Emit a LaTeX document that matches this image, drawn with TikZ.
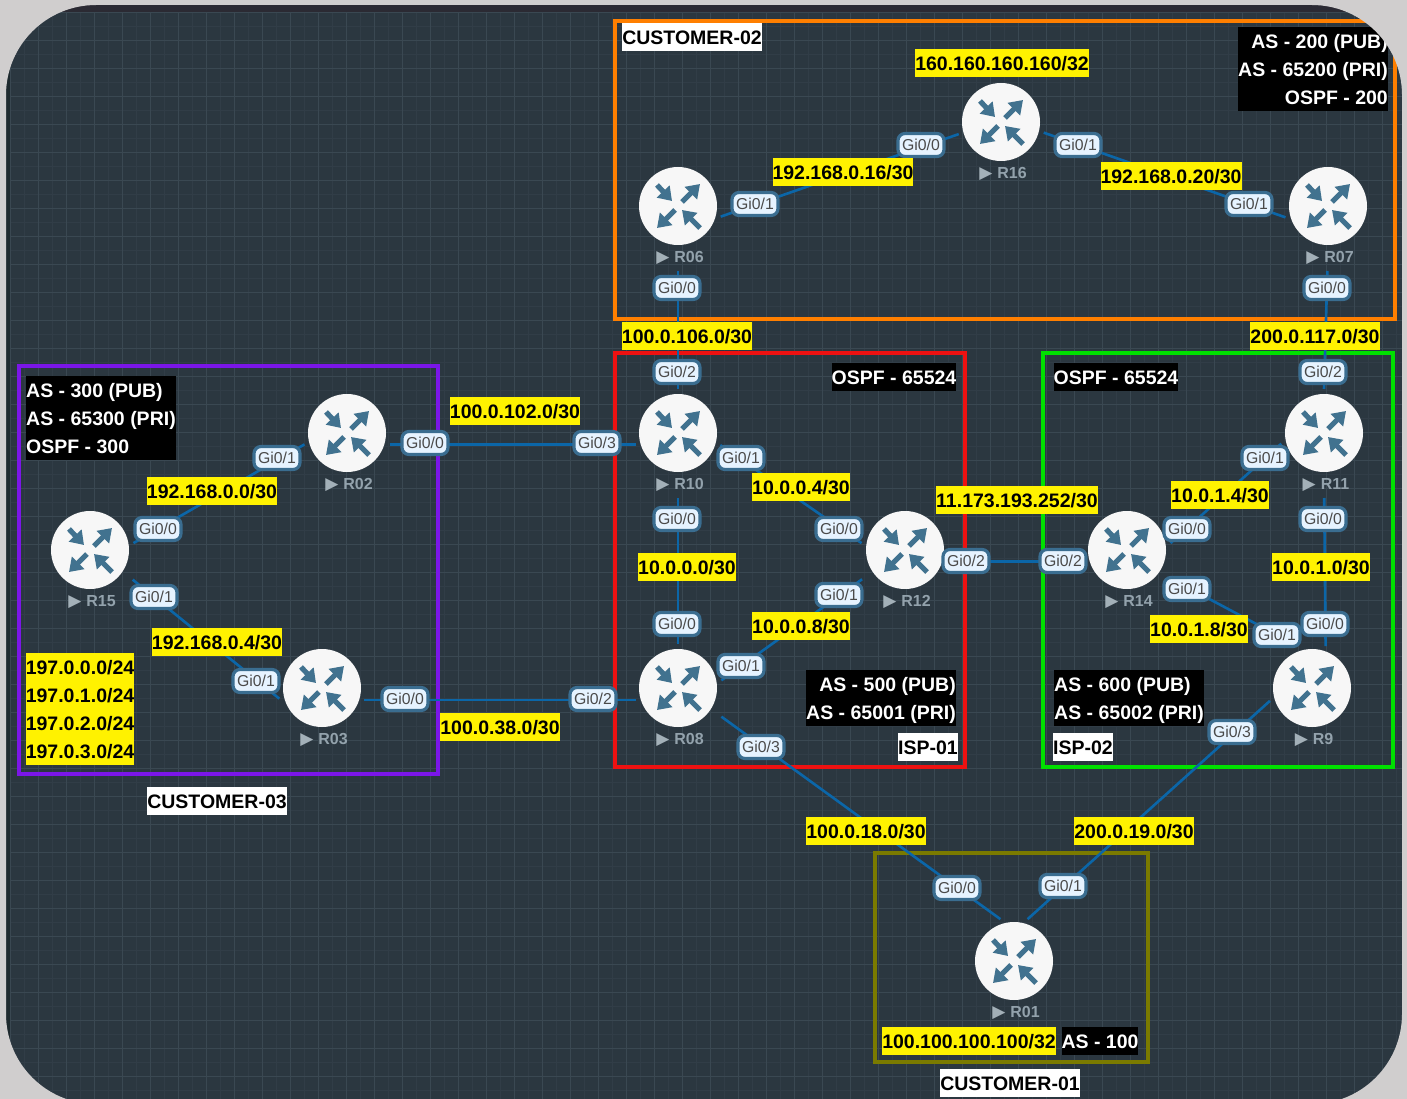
\documentclass[tikz,border=0pt]{standalone}
\usepackage{fontspec}
\setmainfont{Liberation Sans}
\newfontfamily\symfont{DejaVu Sans}
\usepackage{xcolor}
\usepackage{tikz}
\usetikzlibrary{arrows.meta,positioning,calc}
\definecolor{labgray}{HTML}{D0CECE}
\definecolor{labedge}{HTML}{1E2A2E}
\definecolor{labtop}{HTML}{2B2A33}
\definecolor{labback}{HTML}{2B3740}
\definecolor{labmajor}{HTML}{3A4852}
\definecolor{labminor}{HTML}{313D47}
\definecolor{linkblue}{HTML}{0B66A8}
\definecolor{portfill}{HTML}{E6F3FF}
\definecolor{portedge}{HTML}{3A6D90}
\definecolor{porttext}{HTML}{4A4A4A}
\definecolor{arrowblue}{HTML}{41728F}
\definecolor{tagtext}{HTML}{93A2AC}
\definecolor{custorange}{HTML}{FF7F00}
\definecolor{custpurple}{HTML}{7B16E8}
\definecolor{custolive}{HTML}{7A7A00}
\definecolor{ispred}{HTML}{EE1111}
\definecolor{ispgreen}{HTML}{00E000}
\newcommand{\tagmark}{{\symfont\fontsize{17}{16}\selectfont\color{tagtext!85!white}▶}\hspace{5pt}}
\newcommand{\stacktop}{\rule{0pt}{21.5pt}}
\newcommand{\stackend}{\rule[-6.5pt]{0pt}{6.5pt}}
\tikzset{
  routerarrow/.style={arrowblue,line width=5.2pt,-{Triangle[length=13pt,width=17pt]}},
  routerbox/.style={circle,minimum size=78pt,inner sep=0pt,outer sep=5pt,fill=white!97!black,
    path picture={
      \begin{scope}[shift={(path picture bounding box.center)}]
        \draw[routerarrow] (-21,-21) -- (-6,-5);
        \draw[routerarrow] (4,-4) -- (22,-22);
        \draw[routerarrow] (-3,4) -- (-21,22);
        \draw[routerarrow] (22,22) -- (4,4);
      \end{scope}}},
  routertag/.style={inner sep=0pt,text=tagtext,text height=12pt,text depth=3pt,xshift=2pt,
    font=\fontsize{16}{16}\selectfont\bfseries},
  link/.style={linkblue,line width=2.6pt},
  portbox/.style={rectangle,rounded corners=7pt,draw=portedge,line width=3.2pt,fill=portfill,
    minimum width=46pt,minimum height=23pt,inner sep=0pt,text=porttext,
    font=\fontsize{15.8}{15.8}\selectfont},
  tagbox/.style={rectangle,inner sep=0pt,minimum height=28pt,text height=21.5pt,text depth=6.5pt,
    font=\fontsize{19.5}{28}\selectfont\bfseries},
  stackbox/.style={rectangle,inner sep=0pt,font=\fontsize{19.5}{28}\selectfont\bfseries},
  yellowtag/.style={tagbox,fill=yellow,text=black},
  blacktag/.style={tagbox,fill=black,text=white},
  whitetag/.style={tagbox,fill=white,text=black},
  groupbox/.style={line width=3.2pt}
}

\begin{document}
\begin{tikzpicture}[x=1pt,y=-1pt]

  \useasboundingbox (0,0) rectangle (1407,1099);

  % canvas and grid
  \fill[labedge] (0,0) rectangle (1407,1099);
  \fill[labtop] (0,0) rectangle (1407,12);
  \fill[labback] (10,12) rectangle (1407,1099);
  \foreach \i in {0,...,50} {
    \draw[labminor,line width=1pt] ({24.3+28*\i},12) -- ({24.3+28*\i},1099);
    \draw[labminor,line width=1pt] (10,{26.7+28*\i}) -- (1407,{26.7+28*\i});
  }
  \foreach \i in {0,...,50} {
    \draw[labmajor,line width=1.3pt] ({10.3+28*\i},12) -- ({10.3+28*\i},1099);
    \draw[labmajor,line width=1.3pt] (10,{12.7+28*\i}) -- (1407,{12.7+28*\i});
  }

  % customer and isp frames
  \draw[groupbox,custorange] (615,21) rectangle (1395,319);
  \draw[groupbox,ispred] (615,353) rectangle (965,767);
  \draw[groupbox,ispgreen] (1043,353) rectangle (1393,767);
  \draw[groupbox,custpurple] (19,366) rectangle (438,774);
  \draw[groupbox,custolive] (875,853) rectangle (1148,1062);

  % routers
  \node[routerbox,label={[routertag]below:\tagmark R16}] (r16) at (1001,122) {};
  \node[routerbox,label={[routertag]below:\tagmark R06}] (r06) at (678,206) {};
  \node[routerbox,label={[routertag]below:\tagmark R07}] (r07) at (1328,206) {};
  \node[routerbox,label={[routertag]below:\tagmark R10}] (r10) at (678,433) {};
  \node[routerbox,label={[routertag]below:\tagmark R12}] (r12) at (905,550) {};
  \node[routerbox,label={[routertag]below:\tagmark R08}] (r08) at (678,688) {};
  \node[routerbox,label={[routertag]below:\tagmark R02}] (r02) at (347,433) {};
  \node[routerbox,label={[routertag]below:\tagmark R15}] (r15) at (90,550) {};
  \node[routerbox,label={[routertag]below:\tagmark R03}] (r03) at (322,688) {};
  \node[routerbox,label={[routertag]below:\tagmark R14}] (r14) at (1127,550) {};
  \node[routerbox,label={[routertag]below:\tagmark R11}] (r11) at (1324,433) {};
  \node[routerbox,label={[routertag]below:\tagmark R9}] (r09) at (1312,688) {};
  \node[routerbox,label={[routertag]below:\tagmark R01}] (r01) at (1014,961) {};

  \coordinate (r09g1) at (1277,635);

  % links
  \draw[link] (r06.-14) -- (r16.196);
  \draw[link] (r16.-14) -- (r07.195);
  \draw[link,shorten <=21pt] (r06.south) -- (r10.north);
  \draw[link,shorten <=21pt] (r07.south) -- (r11.north);
  \draw[link,shorten <=21pt] (r10.south) -- (r08.north);
  \draw[link,shorten <=21pt] (r11.south) -- (r09.72);
  \draw[link] (r10.-16) -- (r12.171);
  \draw[link,shorten >=8pt] (r08.10) -- (r12.214);
  \draw[link] (r12.-15) -- (r14.195);
  \draw[link] (r02.-15) -- (r10.195);
  \draw[link] (r03.-16) -- (r08.196);
  \draw[link] (r15.9) -- (r02.195);
  \draw[link,shorten <=8pt] (r15.-34) -- (r03.194);
  \draw[link,shorten <=8pt] (r08.-33) -- (r01.108);
  \draw[link] (r09.197) -- (r01.72);
  \draw[link] (r14.9) -- (r11.194);
  \draw[link,shorten <=8pt] (r14.-34) -- (r09g1);

  % interface labels
  \node[portbox] (r16g0) at (921,145) {Gi0/0};
  \node[portbox] (r16g1) at (1078,145) {Gi0/1};
  \node[portbox] (r06g1) at (755,204) {Gi0/1};
  \node[portbox] (r06g0) at (677,288) {Gi0/0};
  \node[portbox] (r07g1) at (1249,204) {Gi0/1};
  \node[portbox] (r07g0) at (1327,288) {Gi0/0};
  \node[portbox] (r10g2) at (677,372) {Gi0/2};
  \node[portbox] (r10g3) at (597,443) {Gi0/3};
  \node[portbox] (r10g1) at (741,458) {Gi0/1};
  \node[portbox] (r10g0) at (677,519) {Gi0/0};
  \node[portbox] (r08g0) at (677,624) {Gi0/0};
  \node[portbox] (r08g1) at (741,666) {Gi0/1};
  \node[portbox] (r08g2) at (593,699) {Gi0/2};
  \node[portbox] (r08g3) at (761,747) {Gi0/3};
  \node[portbox] (r12g0) at (839,529) {Gi0/0};
  \node[portbox] (r12g1) at (839,595) {Gi0/1};
  \node[portbox] (r12g2) at (966,561) {Gi0/2};
  \node[portbox] (r14g2) at (1063,561) {Gi0/2};
  \node[portbox] (r14g0) at (1187,529) {Gi0/0};
  \node[portbox] (r14g1) at (1187,589) {Gi0/1};
  \node[portbox] (r11g2) at (1323,372) {Gi0/2};
  \node[portbox] (r11g1) at (1265,458) {Gi0/1};
  \node[portbox] (r11g0) at (1323,519) {Gi0/0};
  \node[portbox] (r09g0) at (1325,624) {Gi0/0};
  \node[portbox] at (r09g1) {Gi0/1};
  \node[portbox] (r09g3) at (1232,732) {Gi0/3};
  \node[portbox] (r02g1) at (277,458) {Gi0/1};
  \node[portbox] (r02g0) at (425,443) {Gi0/0};
  \node[portbox] (r15g0) at (158,529) {Gi0/0};
  \node[portbox] (r15g1) at (154,597) {Gi0/1};
  \node[portbox] (r03g1) at (256,681) {Gi0/1};
  \node[portbox] (r03g0) at (405,699) {Gi0/0};
  \node[portbox] (r01g0) at (957,888) {Gi0/0};
  \node[portbox] (r01g1) at (1063,886) {Gi0/1};

  % subnets
  \node[yellowtag] (lo16) at (1002,63) {160.160.160.160/32};
  \node[yellowtag] (net16) at (843,172) {192.168.0.16/30};
  \node[yellowtag] (net20) at (1171,176) {192.168.0.20/30};
  \node[yellowtag] (net106) at (687,336) {100.0.106.0/30};
  \node[yellowtag] (net117) at (1315,336) {200.0.117.0/30};
  \node[yellowtag] (net102) at (515,411) {100.0.102.0/30};
  \node[yellowtag] (net0) at (212,491) {192.168.0.0/30};
  \node[yellowtag] (net4) at (217,642) {192.168.0.4/30};
  \node[yellowtag] (net38) at (500,727) {100.0.38.0/30};
  \node[yellowtag] (isp104) at (801,487) {10.0.0.4/30};
  \node[yellowtag] (isp100) at (687,567) {10.0.0.0/30};
  \node[yellowtag] (isp108) at (801,626) {10.0.0.8/30};
  \node[yellowtag] (peer) at (1017,500) {11.173.193.252/30};
  \node[yellowtag] (isp214) at (1220,495) {10.0.1.4/30};
  \node[yellowtag] (isp210) at (1321,567) {10.0.1.0/30};
  \node[yellowtag] (isp218) at (1199,629) {10.0.1.8/30};
  \node[yellowtag] (net18) at (866,831) {100.0.18.0/30};
  \node[yellowtag] (net19) at (1134,831) {200.0.19.0/30};
  \node[yellowtag] (lo01) at (969,1041) {100.100.100.100/32};
  \node[stackbox,fill=yellow,text=black,minimum width=108pt,align=center] (pfx03) at (80,709)
       {\stacktop 197.0.0.0/24\\197.0.1.0/24\\197.0.2.0/24\\197.0.3.0/24\stackend};

  % as and ospf notes
  \node[stackbox,fill=black,text=white,minimum width=150pt,align=right] (as02) at (1313,69)
       {\stacktop AS - 200 (PUB)\\AS - 65200 (PRI)\\OSPF - 200\stackend};
  \node[stackbox,fill=black,text=white,minimum width=150pt,align=left] (as03) at (101,418)
       {\stacktop AS - 300 (PUB)\\AS - 65300 (PRI)\\OSPF - 300\stackend};
  \node[stackbox,fill=black,text=white,minimum width=150pt,align=right] (as01) at (881,698)
       {\stacktop AS - 500 (PUB)\\AS - 65001 (PRI)\stackend};
  \node[stackbox,fill=black,text=white,minimum width=150pt,align=left] (as04) at (1129,698)
       {\stacktop AS - 600 (PUB)\\AS - 65002 (PRI)\stackend};
  \node[blacktag] (ospf01) at (894,377) {OSPF - 65524};
  \node[blacktag] (ospf02) at (1116,377) {OSPF - 65524};
  \node[blacktag] (as100) at (1100,1041) {AS - 100};

  % site names
  \node[whitetag] (cust02) at (692,37) {CUSTOMER-02};
  \node[whitetag] (cust03) at (217,801) {CUSTOMER-03};
  \node[whitetag] (cust01) at (1010,1083) {CUSTOMER-01};
  \node[whitetag] (isp01) at (928,747) {ISP-01};
  \node[whitetag] (isp02) at (1083,747) {ISP-02};

  % window corners
  \fill[labgray,even odd rule] (0,0) rectangle (1407,1099)
       [rounded corners=90pt] (6,5) rectangle (1402,1104);

\end{tikzpicture}
\end{document}
